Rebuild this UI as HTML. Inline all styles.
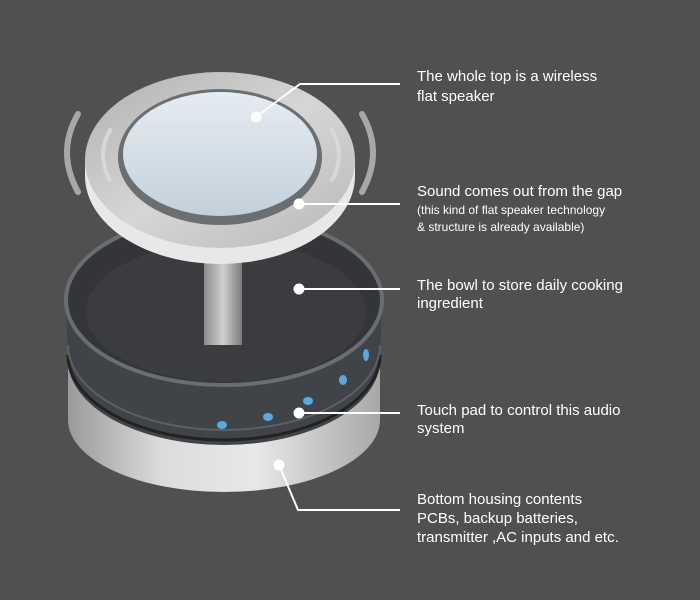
<!DOCTYPE html>
<html><head><style>
body{margin:0;background:#505050;}
svg{display:block}
text{font-family:"Liberation Sans",Arial,sans-serif;fill:#fff}
.b{font-size:15px}.s{font-size:12px}
</style></head><body>
<svg width="700" height="600" viewBox="0 0 700 600" xmlns="http://www.w3.org/2000/svg">
<defs>
<linearGradient id="wh" x1="0" x2="1"><stop offset="0" stop-color="#9a9a9a"/><stop offset=".3" stop-color="#dcdcdc"/><stop offset=".6" stop-color="#e8e8e8"/><stop offset="1" stop-color="#a8a8a8"/></linearGradient>
<linearGradient id="pole" x1="0" x2="1"><stop offset="0" stop-color="#8a8a8a"/><stop offset=".5" stop-color="#d0d0d0"/><stop offset="1" stop-color="#7a7a7a"/></linearGradient>
<linearGradient id="disc" x1="0" y1="0" x2="1" y2="1"><stop offset="0" stop-color="#b0b0b0"/><stop offset=".5" stop-color="#d6d6d6"/><stop offset="1" stop-color="#b8b8b8"/></linearGradient>
<linearGradient id="plate" x1="0" y1="0" x2="0" y2="1"><stop offset="0" stop-color="#e6ecf1"/><stop offset="1" stop-color="#c3d0db"/></linearGradient>
</defs>
<rect width="700" height="600" fill="#505050"/>
<path d="M68 360 L68 420 A156 72 0 0 0 380 420 L380 360 Z" fill="url(#wh)"/>
<path d="M66 300 L68 360 A156 85 0 0 0 380 360 L382 300 Z" fill="#404347"/>
<ellipse cx="224" cy="300" rx="158" ry="85" fill="#333538" stroke="#6a6e72" stroke-width="4"/>
<ellipse cx="226" cy="312" rx="140" ry="70" fill="#3a3c3f"/>
<path d="M68 355 A156 85 0 0 0 380 355" fill="none" stroke="#222" stroke-width="3"/>
<path d="M68 345 A156 85 0 0 0 380 345" fill="none" stroke="#5a6066" stroke-width="2"/>
<g fill="#5aa8e0"><ellipse cx="222" cy="425" rx="5" ry="4"/><ellipse cx="268" cy="417" rx="5" ry="4"/><ellipse cx="308" cy="401" rx="5" ry="4"/><ellipse cx="343" cy="380" rx="4" ry="5"/><ellipse cx="366" cy="355" rx="3" ry="6"/></g>
<rect x="204" y="240" width="38" height="105" fill="url(#pole)"/>
<path d="M85 160 L85 176 A135 88 0 0 0 355 176 L355 160 Z" fill="#e8e8e8"/>
<ellipse cx="220" cy="160" rx="135" ry="88" fill="url(#disc)"/>
<ellipse cx="220" cy="157" rx="102" ry="68" fill="#6b6f72"/>
<ellipse cx="220" cy="154" rx="97" ry="62" fill="url(#plate)"/>
<g fill="none" stroke="#a8a8a8" stroke-linecap="round">
<path d="M78 114 Q56 152 78 192" stroke-width="6"/>
<path d="M362 114 Q384 152 362 192" stroke-width="6"/>
<path d="M110 130 Q96 155 110 180" stroke-width="4" stroke="#d8d8d8"/>
<path d="M332 130 Q346 155 332 180" stroke-width="4" stroke="#d8d8d8"/>
</g>
<g stroke="#fff" stroke-width="2" fill="none">
<polyline points="256,117 300,84 400,84"/>
<line x1="299" y1="204" x2="400" y2="204"/>
<line x1="299" y1="289" x2="400" y2="289"/>
<line x1="299" y1="413" x2="400" y2="413"/>
<polyline points="279,465 298,510 400,510"/>
</g>
<g fill="#fff"><circle cx="256" cy="117" r="5.5"/><circle cx="299" cy="204" r="5.5"/><circle cx="299" cy="289" r="5.5"/><circle cx="299" cy="413" r="5.5"/><circle cx="279" cy="465" r="5.5"/></g>
<text class="b" x="417" y="81">The whole top is a wireless</text>
<text class="b" x="417" y="101">flat speaker</text>
<text class="b" x="417" y="196">Sound comes out from the gap</text>
<text class="s" x="417" y="214">(this kind of flat speaker technology</text>
<text class="s" x="417" y="231">&amp; structure is already available)</text>
<text class="b" x="417" y="290">The bowl to store daily cooking</text>
<text class="b" x="417" y="308">ingredient</text>
<text class="b" x="417" y="415">Touch pad to control this audio</text>
<text class="b" x="417" y="433">system</text>
<text class="b" x="417" y="504">Bottom housing contents</text>
<text class="b" x="417" y="523">PCBs, backup batteries,</text>
<text class="b" x="417" y="542">transmitter ,AC inputs and etc.</text>
</svg>
</body></html>
